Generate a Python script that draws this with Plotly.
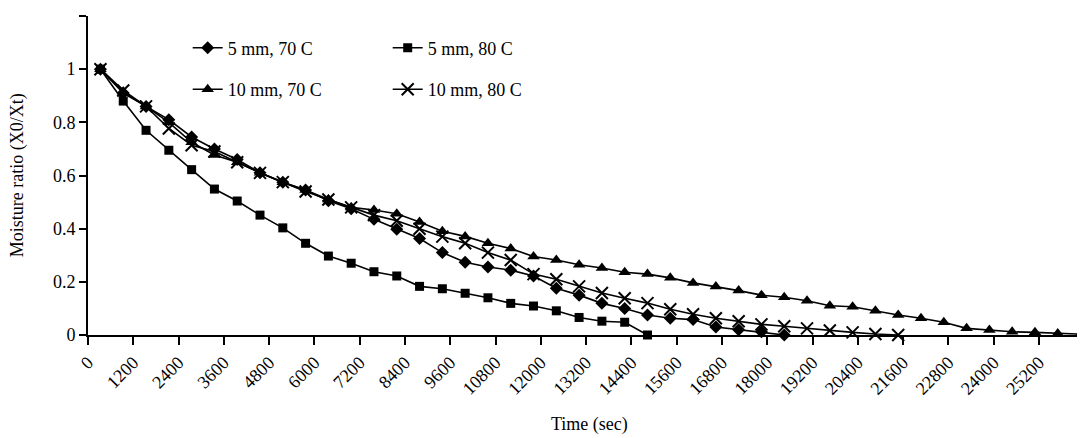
import plotly.graph_objects as go

times = [330, 934, 1538, 2142, 2746, 3350, 3954, 4558, 5162, 5766, 6370, 6974,
         7578, 8182, 8786, 9390, 9994, 10598, 11202, 11806, 12410, 13014, 13618,
         14222, 14826, 15430, 16034, 16638, 17242, 17846, 18450, 19054, 19658,
         20262, 20866, 21470, 22074, 22678, 23282, 23886, 24490, 25094, 25698, 26302]

mr_5mm_70C = [1.0, 0.91, 0.86, 0.81, 0.745, 0.70, 0.66, 0.61, 0.575, 0.545, 0.505,
              0.475, 0.435, 0.398, 0.363, 0.31, 0.274, 0.256, 0.244, 0.222, 0.176,
              0.15, 0.119, 0.10, 0.075, 0.063, 0.058, 0.03, 0.02, 0.012, 0.0]

mr_5mm_80C = [1.0, 0.88, 0.77, 0.695, 0.622, 0.549, 0.504, 0.451, 0.403, 0.345,
              0.297, 0.27, 0.238, 0.222, 0.183, 0.174, 0.157, 0.14, 0.119, 0.109,
              0.091, 0.066, 0.052, 0.048, 0.0]

mr_10mm_70C = [1.0, 0.915, 0.86, 0.80, 0.725, 0.677, 0.65, 0.61, 0.575, 0.545, 0.51,
               0.48, 0.47, 0.456, 0.425, 0.39, 0.371, 0.345, 0.325, 0.295, 0.282,
               0.264, 0.252, 0.236, 0.229, 0.215, 0.196, 0.182, 0.167, 0.150, 0.142,
               0.129, 0.110, 0.106, 0.091, 0.075, 0.063, 0.048, 0.025, 0.019, 0.012,
               0.010, 0.006, 0.003]

mr_10mm_80C = [1.0, 0.92, 0.86, 0.777, 0.714, 0.69, 0.65, 0.61, 0.575, 0.54, 0.51,
               0.48, 0.451, 0.43, 0.40, 0.37, 0.345, 0.31, 0.282, 0.229, 0.21,
               0.183, 0.158, 0.138, 0.12, 0.097, 0.078, 0.063, 0.052, 0.04, 0.033,
               0.025, 0.017, 0.01, 0.004, 0.0]

series_names = ["5 mm, 70 C", "5 mm, 80 C", "10 mm, 70 C", "10 mm, 80 C"]

x_tickvals = [0, 1200, 2400, 3600, 4800, 6000, 7200, 8400, 9600, 10800, 12000,
              13200, 14400, 15600, 16800, 18000, 19200, 20400, 21600, 22800,
              24000, 25200]
x_ticktext = [str(v) for v in x_tickvals]
y_tickvals = [0, 0.2, 0.4, 0.6, 0.8, 1.0, 1.2]
y_ticktext = ["0", "0.2", "0.4", "0.6", "0.8", "1", "1.2"]

FONT = "Liberation Serif"
LINE = dict(color="black", width=1.6)

fig = go.Figure()
fig.add_trace(go.Scatter(
    x=times[:len(mr_5mm_70C)], y=mr_5mm_70C, name=series_names[0], mode="lines+markers",
    line=LINE, marker=dict(symbol="diamond", size=10, color="black"),
    cliponaxis=False, legend="legend"))
fig.add_trace(go.Scatter(
    x=times[:len(mr_5mm_80C)], y=mr_5mm_80C, name=series_names[1], mode="lines+markers",
    line=LINE, marker=dict(symbol="square", size=9, color="black"),
    cliponaxis=False, legend="legend"))
fig.add_trace(go.Scatter(
    x=times[:len(mr_10mm_70C)], y=mr_10mm_70C, name=series_names[2], mode="lines+markers",
    line=LINE, marker=dict(symbol="triangle-up", size=11, color="black"),
    cliponaxis=False, legend="legend2"))
fig.add_trace(go.Scatter(
    x=times[:len(mr_10mm_80C)], y=mr_10mm_80C, name=series_names[3], mode="lines+markers",
    line=LINE, marker=dict(symbol="x-thin-open", size=12, color="black",
                           line=dict(color="black", width=2)),
    cliponaxis=False, legend="legend2"))

legend_common = dict(orientation="h", xanchor="left", yanchor="top",
                     font=dict(family=FONT, size=18, color="black"),
                     bgcolor="rgba(0,0,0,0)", entrywidth=155, entrywidthmode="pixels",
                     traceorder="normal")

# the page body adds an 8 px offset, so the figure is 8 px smaller and margins shifted
fig.update_layout(
    width=1077, height=430,
    margin=dict(l=80, r=0, t=8, b=103),
    paper_bgcolor="white", plot_bgcolor="white",
    font=dict(family=FONT, size=18, color="black"),
    legend=dict(x=0.100, y=0.9575, **legend_common),
    legend2=dict(x=0.100, y=0.8275, **legend_common),
    xaxis=dict(range=[0, 26420], tickmode="array", tickvals=x_tickvals,
               ticktext=x_ticktext, tickangle=-45, showgrid=False, zeroline=False,
               showline=True, linecolor="black", linewidth=2, ticks="outside",
               ticklen=8, tickwidth=2, tickcolor="black", automargin=False,
               tickfont=dict(family=FONT, size=18, color="black")),
    yaxis=dict(range=[0, 1.2], tickmode="array", tickvals=y_tickvals,
               ticktext=y_ticktext, showgrid=False, zeroline=False,
               showline=True, linecolor="black", linewidth=2, ticks="outside",
               ticklen=7, tickwidth=2, tickcolor="black", automargin=False,
               tickfont=dict(family=FONT, size=18, color="black")),
    annotations=[
        dict(text="Time (sec)", xref="paper", yref="paper", x=0.503, y=-0.282,
             xanchor="center", yanchor="middle", showarrow=False,
             font=dict(family=FONT, size=18, color="black")),
        dict(text="Moisture ratio (X0/Xt)", xref="paper", yref="paper", x=-0.0705,
             y=0.5, xanchor="center", yanchor="middle", textangle=-90, showarrow=False,
             font=dict(family=FONT, size=18, color="black")),
    ],
)

fig.write_html("out.html")
